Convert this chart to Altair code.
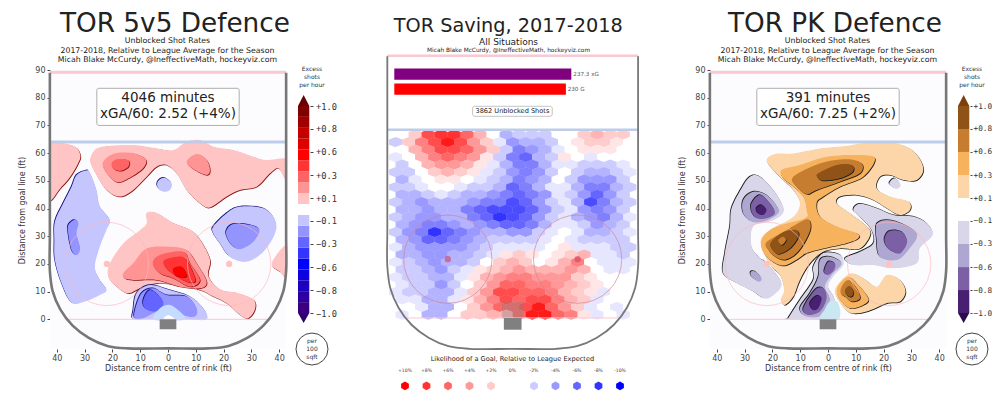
import altair as alt

FONT = "DejaVu Sans"
MONO = "DejaVu Sans Mono"

# ---------- rink geometry (feet) ----------
BOARD_X = [-42.5,-42.5,-42.5,-42.5,-41.5,-38.7,-34.3,-28.5,-21.8,-14.5,0,14.5,21.8,28.5,34.3,38.7,41.5,42.5,42.5,42.5,42.5]
BOARD_Y = [89,60,30,17.5,10.2,3.5,-2.3,-6.7,-9.6,-10.5,-10.5,-10.5,-9.6,-6.7,-2.3,3.5,10.2,17.5,30,60,89]
CIRCLE_X = [-22, 22]
CIRCLE_Y = [20, 20]

# ---------- 5v5 panel contours (feet) ----------
A1 = [(-42.5,63.5),(-37,63.5),(-33,62),(-31.5,59),(-32.5,56),(-35.5,51),(-39,47),(-42.5,43),(-44,50),(-44,60)]
A2 = [(-27.8,58.7),(-25.7,61.7),(-20.9,62.6),(-12.5,62.9),(-4.1,61.7),(1.9,61.1),(6.7,64.1),(11.5,64.7),(16.3,62.3),(23.5,61.1),(30.7,58.7),(35.5,57.5),(42.5,58),(44,54),(42.5,50.3),(39.7,54.5),(36.7,52.7),(31.9,47.9),(25.9,46.7),(21.1,44.3),(15.1,40.4),(11.5,41.9),(6.7,46.7),(3.1,52.7),(-0.5,55.7),(-4.1,55.1),(-7.7,51.5),(-12.5,46.7),(-17.3,44.3),(-22.1,46.7),(-25.7,52.1),(-27.8,56.3)]
A3 = [(-23.5,56.3),(-19.7,59.7),(-12.5,60),(-8,57.8),(-8.9,54.6),(-13,51.6),(-17.9,49.5),(-21.5,52.1)]
A4 = [(-20.3,56.3),(-18.5,57.8),(-14.3,57.5),(-14.3,55.1),(-17.3,53.6),(-19.7,54.5)]
A5 = [(6.7,56.9),(10.3,59.7),(13.9,57.5),(15.1,53.9),(13.9,52.1),(9.7,53.9)]
A6 = [(-29.5,53.7),(-32.9,52.1),(-34.7,47.9),(-37.7,41.9),(-40.7,35.3),(-40.9,28.6),(-40.7,21.4),(-38.3,13),(-34.7,6),(-29.9,6.4),(-24.5,8.8),(-22.1,10.6),(-24.5,14.2),(-26.3,19),(-24.5,26.3),(-22.1,32.3),(-20.9,35.9),(-24.5,40.7),(-25.7,46.7),(-28.1,52.9)]
A7 = [(-33.8,35.9),(-32.2,34.7),(-32.9,31),(-31.6,25.6),(-32.9,23.2),(-34.7,25),(-35.9,31),(-35.9,34)]
A8 = [(-1.3,51.1),(1.3,49.1),(0.7,46.7),(-1.7,46.1),(-3.8,47.9),(-3.5,50)]
A9 = [(16.3,33.5),(21.1,38.3),(25.9,40.7),(34.3,40.1),(38.5,35.9),(38.5,31),(34.3,24.4),(28.3,20.8),(22.3,22.6),(18.7,27.4),(16.3,31)]
A10 = [(21.1,32.3),(23.5,34.4),(29.5,34.1),(32.9,32.3),(30.7,28),(25.9,25.3),(22.9,26.8),(21.1,29.9)]
A11 = [(-7.7,38.4),(-4.1,38.4),(1.9,34.8),(7.9,32.4),(11.5,28.8),(15.1,21.6),(14.5,15.6),(18.7,10.8),(24.7,9.6),(30.7,7.2),(31.3,3.6),(28.9,0.4),(25.9,1.6),(21.1,5.8),(16.3,8.2),(11.5,10.6),(3.1,12.4),(-4.1,13),(-10.1,11.2),(-14.3,9.4),(-18.5,11.8),(-21.5,15.4),(-20.9,20.2),(-16.1,27.4),(-10.1,32.2),(-7.7,34.6)]
A12 = [(-16.1,16.6),(-12.5,20.2),(-7.7,25.6),(0.7,26.2),(6.7,25),(10.3,20.2),(13.9,13.6),(11.5,11.2),(4.3,11.8),(-4.1,14.2),(-12.5,14.2),(-15.5,14.8)]
A13 = [(-5.5,20.2),(-2.9,23.2),(5.5,24.4),(7.9,20.2),(11.5,14.2),(7.9,11.8),(1.9,14.8),(-2.9,16.6)]
A14 = [(-1.7,20.8),(1.9,22.4),(6.1,22),(9.1,16.6),(9.7,13.6),(6.7,13.6),(0.7,17.2)]
A15 = [(1.9,18.4),(4.9,19),(6.7,16),(5.5,15.2),(2.5,16)]
A16 = [(-12.5,3.4),(-11.3,9.4),(-6.5,12.4),(0.7,10.6),(7.9,8.2),(12.7,4),(13.9,0),(7,0),(0,0),(-7,0),(-12.5,0)]
A17 = [(-11.9,3.4),(-9.5,9.4),(-5.3,11.2),(-0.5,8.8),(6.7,8.2),(10.3,4),(9.7,1),(5.5,1.6),(0.7,4.6),(-4.1,2.8),(-8.9,0.4),(-11.9,0.4)]
A18 = [(-8.9,7),(-6.5,10.6),(-2.9,8.2),(-1.7,5.2),(-4.7,2.8),(-8.3,4)]
A19 = [(-5.3,0),(-2.9,4),(0.7,5.2),(4.3,2.8),(6.1,0),(0.4,-0.5)]
A20 = [(-1.7,0),(0.1,1.6),(2.5,0),(0.4,-0.5)]
A21 = [(37.3,20.2),(42.5,26.8),(44,21),(42.5,15.4),(40.3,17.2)]

RED = {1:"#ffc4c4", 2:"#ff9494", 3:"#ff6464", 4:"#ff3434", 5:"#ff0000"}
BLU = {1:"#c6c6ff", 2:"#9494ff", 3:"#6464ff", 9:"#c4dcff", 10:"#ffffff"}
ORG = {1:"#fcd6a8", 2:"#f6b25c", 3:"#c67d30", 4:"#8f5217"}
PUR = {1:"#d9d6ea", 2:"#aea7d1", 3:"#7b60a6", 4:"#482072", 9:"#c9e8f2"}

# (colour, shadow colour, shadow dx, polygon)
CONTOURS_5V5 = [
    (RED[1],"#8b1010",1,A1),(RED[1],"#8b1010",1,A2),(RED[2],"#8b1010",1,A3),(RED[3],"#8b1010",1,A4),(RED[2],"#8b1010",1,A5),
    (BLU[1],"#101080",-1,A6),(BLU[2],"#101080",-1,A7),(BLU[1],"#101080",-1,A8),(BLU[1],"#101080",-1,A9),(BLU[2],"#101080",-1,A10),
    (RED[1],"#8b1010",1,A11),(RED[2],"#8b1010",1,A12),(RED[3],"#8b1010",1,A13),(RED[4],"#8b1010",1,A14),(RED[5],"#8b1010",1,A15),
    (BLU[1],"#101080",-1,A16),(BLU[2],"#101080",-1,A17),(BLU[3],"#101080",-1,A18),(BLU[9],None,0,A19),(BLU[10],None,0,A20),
    (RED[1],"#8b1010",1,A21),
]

# ---------- PK panel contours (feet) ----------
B1 = [(-22.1,57.5),(-19.1,59.7),(-12.5,59.9),(-2.9,61.7),(6.7,62.6),(13.9,63.8),(21.1,64.1),(28.3,62.3),(32.5,58.7),(34.3,53.9),(31.9,50.3),(27.1,50.3),(22.3,52.1),(18.7,51.5),(17.5,47.3),(22.3,44.3),(28.9,42.5),(29.5,39.5),(25.9,37.7),(21.1,40.1),(16.3,43.1),(10.3,44.9),(4.3,44.3),(3.1,41.9),(7.9,38.3),(12.7,34.7),(15.3,31),(11.5,25.6),(4.3,25.6),(-1.7,24.4),(-6.5,20.2),(-10.1,14.2),(-12.5,8.2),(-15.5,5.2),(-17,7),(-15.8,10.6),(-17.3,16),(-20.3,19),(-23,23.8),(-24.2,28.6),(-20.9,32.2),(-12.5,37),(-10.1,41.9),(-12.5,46.7),(-16.1,50.3),(-19.7,53.9)]
B2 = [(-16.7,53.9),(-10.1,55.7),(-0.5,58.7),(10.3,59.3),(16.9,58.1),(12.7,51.5),(4.3,47.9),(-1.7,44.3),(-4.1,41.9),(-2.9,37.1),(3.1,33.5),(10.3,31.1),(10.9,29.3),(6.7,27.5),(-1.7,25.6),(-7.7,23.9),(-11.3,21.5),(-16.1,19.4),(-20.9,21.5),(-23.9,25.7),(-23.3,29.9),(-18.5,33.5),(-8.3,36.5),(-7.7,39.5),(-8.9,44.3),(-12.5,47.9),(-16.1,50.9)]
B3 = [(-12.5,51.5),(-2.9,56.3),(6.7,57.8),(12.1,56.3),(11.5,52.7),(4.3,49.7),(-4.1,46.7),(-7.7,45.2),(-11.3,47.9)]
B4 = [(-3.5,52.7),(3.1,55.7),(8.5,55.7),(8.9,53.3),(4.3,50.9),(-1.7,50.1),(-3.8,51.3)]
B5 = [(-22.1,27.9),(-14.9,32.2),(-7.7,36.1),(-6.2,33.5),(-7.7,29.2),(-11.3,23.9),(-15.5,21.5),(-19.1,22.7),(-21.5,25.1)]
B6 = [(-20.5,27.9),(-15.9,31.6),(-11.3,32.2),(-10.7,29.8),(-13.7,25.6),(-17.9,23.6),(-20.3,25.6)]
B7 = [(-17.9,28.6),(-16.1,29.8),(-15.1,28.6),(-16.7,26.8)]
B8 = [(4.9,14.2),(8.5,16.6),(12.7,14.8),(17.5,11.8),(21.1,16),(25.9,14.2),(27.9,10),(25.9,6.4),(21.1,5.8),(13.9,2.8),(7.9,2.4),(3.7,7),(2.5,10.6)]
B9 = [(4.3,13),(7.3,15.4),(10.3,13),(14.5,7.6),(12.7,5.2),(7.9,4),(4.3,7),(3.1,10)]
B10 = [(4.9,11.8),(7.3,14.2),(10.3,11.2),(11.5,7.6),(8.5,6.4),(6.1,8.2),(4.6,9.4)]
B11 = [(6.1,10.6),(7.7,12),(9.1,10),(8.5,8.2),(6.7,8.8)]
C1 = [(-28.1,51.5),(-24.5,51.5),(-19.7,46.7),(-16.1,40.7),(-16.7,37.7),(-20.9,35.3),(-26.9,33.5),(-27.5,26.3),(-24.5,22.1),(-22.1,20.3),(-16.7,13),(-20.3,8.2),(-23.3,7.6),(-26.9,10),(-32.9,13),(-37.7,16.6),(-37.1,23.9),(-35.3,33.5),(-34.7,40.1),(-31.1,47.3)]
C2 = [(-30.5,43.1),(-26.9,46.1),(-22.1,44.9),(-17.9,40.1),(-18.5,37.7),(-23.3,35.3),(-27.5,35.3),(-30.5,38.3)]
C3 = [(-27.5,41.9),(-24.5,44.9),(-20.9,41.9),(-19.1,38.3),(-22.1,36.5),(-25.7,36.5),(-27.5,38.9)]
C4 = [(-25.7,40.1),(-23.9,41.3),(-22.1,39.5),(-23.3,37.7),(-25.3,38.3)]
C5 = [(-27.8,17.2),(-26,17.2),(-23.9,14.8),(-24.8,13.6),(-27.5,15.4)]
C6 = [(9.1,39.5),(11.5,41.7),(17.5,40.1),(23.5,37.7),(30.7,37.1),(35.5,34.7),(37.7,30.5),(33,25.6),(31.9,20.2),(23.5,18.4),(16.3,19.6),(9.1,19.6),(6.1,22),(11.5,24.4),(16.3,27.4),(15.7,32.2),(11.5,37)]
C7 = [(17.7,34.7),(23.5,35.6),(31.9,31),(28.9,25),(24.7,21.4),(18.7,22.6),(17.5,28.6)]
C8 = [(20.5,29.8),(22.3,32),(26.5,31.6),(28.5,28),(25.9,23.8),(22.3,25),(20.5,27.4)]
C9 = [(22.3,49.7),(24.1,50.9),(26.1,48.5),(24.7,47.1),(22.3,48.5)]
C10 = [(-14.3,0.4),(-10.1,7),(-5.3,14.2),(-5.3,19),(-1.7,23.9),(4.3,23.3),(5.5,19.7),(1.9,15.5),(0.1,11.8),(2.5,7),(1.9,0),(-6,0),(-14.3,0)]
C11 = [(-10.1,4),(-6.5,9.4),(-3.5,15.4),(-2.9,21.4),(0.7,22.6),(4.9,20.2),(1.3,16),(-1.1,11.8),(0.7,7),(-1.7,1.6),(-7.7,1)]
C12 = [(0.7,6.4),(3.7,5.8),(3.9,0),(-2.9,0),(-1.2,3.5)]
C13 = [(-8.9,4),(-4.7,10.6),(-1.7,11.2),(-0.5,7.6),(-2.9,2.8),(-7.1,1.6)]
C14 = [(-6.5,5.8),(-4.1,8.4),(-2.3,7.6),(-3.5,4),(-5.5,3.4)]
C15 = [(-1.4,17.2),(0.1,20.8),(2.5,20.2),(2.2,17.8),(0.1,16)]

DK = "#1c1c1c"
CONTOURS_PK = [
    (ORG[1],DK,1,B1),(ORG[2],DK,1,B2),(ORG[3],DK,1,B3),(ORG[4],DK,1,B4),(ORG[3],DK,1,B5),(ORG[4],DK,1,B6),(ORG[3],DK,1,B7),
    (ORG[1],DK,1,B8),(ORG[2],DK,1,B9),(ORG[3],DK,1,B10),(ORG[4],DK,1,B11),
    (PUR[1],DK,-1,C1),(PUR[2],DK,-1,C2),(PUR[3],DK,-1,C3),(PUR[4],DK,-1,C4),(PUR[2],DK,-1,C5),
    (PUR[1],DK,-1,C6),(PUR[2],DK,-1,C7),(PUR[3],DK,-1,C8),(PUR[1],DK,-1,C9),
    (PUR[1],DK,-1,C10),(PUR[2],DK,-1,C11),(PUR[9],None,0,C12),(PUR[3],DK,-1,C13),(PUR[4],DK,-1,C14),(PUR[3],DK,-1,C15),
]

# ---------- hex map values (percent), row by row from the blue line down ----------
HEX_ROWS = [
 [0,2,7,8,8,6,3,0,-3,-2,-2,-2,0,0,2,3,2,2],
 [-2,2,5,7,9,7,4,2,-1,-4,-3,-3,-2,0,1,2,2,1,0],
 [0,3,5,7,7,6,4,2,-2,-5,-4,-3,-1,0,1,1,1,0],
 [-1,0,3,5,6,5,4,1,-2,-5,-6,-3,-2,1,0,-1,0,0,0],
 [-2,0,3,4,4,3,1,-1,-3,-5,-5,-3,-1,-1,-2,-2,-2,-1],
 [-2,-2,0,2,3,2,1,-1,-2,-4,-5,-4,-2,0,-2,-3,-3,-2,-1],
 [-3,-1,0,1,1,0,-1,-2,-3,-5,-4,-3,0,-2,-4,-4,-4,-2],
 [-2,-2,-1,0,0,-1,-2,-2,-3,-6,-5,-3,-1,-1,-3,-5,-5,-3,-2],
 [-3,-3,-2,-1,-2,-3,-3,-4,-5,-6,-5,-4,-1,-2,-4,-6,-4,-2],
 [-2,-3,-4,-3,-3,-3,-4,-5,-5,-7,-6,-4,-2,-1,-3,-7,-5,-3,-2],
 [-3,-3,-4,-3,-3,-5,-6,-7,-7,-7,-6,-4,-2,-1,-4,-5,-4,-2],
 [-2,-3,-4,-4,-3,-3,-5,-6,-8,-7,-6,-4,-2,-1,-3,-4,-5,-3,-1],
 [-3,-4,-5,-5,-4,-3,-4,-5,-6,-6,-5,-3,-1,-1,-2,-4,-3,-2],
 [-2,-4,-5,-8,-6,-5,-4,-3,-3,-4,-4,-2,-1,0,-1,-3,-3,-2,-1],
 [-3,-4,-6,-6,-5,-4,-3,-2,-2,-2,-2,-1,0,-1,-2,-2,-2,-2],
 [-1,-3,-4,-4,-4,-4,-3,-2,-1,-1,-1,-1,0,1,-1,-1,-1,-2,-2],
 [-3,-3,-4,-4,-3,-3,-2,-1,1,2,1,0,1,2,3,-1,-1,-2],
 [-1,-2,-3,-4,-3,-3,-2,0,2,3,2,0,1,3,5,0,-1,-1,-1],
 [-2,-2,-3,-4,-2,-1,1,2,3,4,3,3,3,4,3,0,-1,-1],
 [-1,-2,-2,-3,-3,-1,1,3,4,5,5,4,4,4,2,1,0,0,0],
 [-1,-2,-2,-4,-2,0,2,4,6,6,5,5,4,3,2,1,0,0],
 [-1,-2,-2,-3,-3,-1,2,4,7,7,6,6,5,3,2,1,-1,0,0],
 [-1,-1,-3,-3,-1,1,3,5,7,6,7,7,5,3,2,-1,0,0],
 [0,0,-1,-3,-3,0,2,4,6,6,7,9,6,4,2,-1,0,-1,0],
 [-1,0,-3,-3,0,2,2,3,3,6,9,9,6,5,1,-1,0,-1],
]
HEX_TOP_FT = 62.35
HEX_ROW_FT = 2.55
HEX_COL_FT = 4.407

LEGEND_PCT = [10,8,6,4,2,0,-2,-4,-6,-8,-10]
LEGEND_TXT = ["+10%","+8%","+6%","+4%","+2%","0%","-2%","-4%","-6%","-8%","-10%"]

BAR_NAMES = ["237.3 xG","230 G"]
BAR_VALUES = [237.3,230]
BAR_COLORS = ["#800080","#ff0000"]
BAR_TOP = [84.9,79.8]
BAR_BOT = [81.0,75.9]
BAR_LAB_X = [240.0,232.4]
BAR_LAB_Y = [83.0,77.9]

# ---------- colourbars ----------
CB1_EDGES = [-1,-.895,-.789,-.684,-.579,-.474,-.368,-.263,-.158,-.053,.053,.158,.263,.368,.474,.579,.684,.789,.895,1]
CB1_COLORS = ["#3a0080","#2c00a0","#1e00c0","#0f00e0","#0000ff","#3434ff","#6464ff","#9494ff","#c6c6ff","#ffffff",
              "#ffc4c4","#ff9494","#ff6464","#ff3434","#ff0000","#e00000","#c40000","#a00000","#800000"]
CB1_TIPS = ["#6a0000","#320070"]
CB3_EDGES = [-1,-.778,-.556,-.333,-.111,.111,.333,.556,.778,1]
CB3_COLORS = ["#482072","#7b60a6","#aea7d1","#d9d6ea","#ffffff","#fcd6a8","#f6b25c","#c67d30","#8f5217"]
CB3_TIPS = ["#7f3f0c","#2d0a50"]
CB_TICKS = [-1,-.778,-.556,-.333,-.111,.111,.333,.556,.778,1]

P_W, P_H = 236, 341
X_DOM = [-42.45, 42.45]
Y_DOM = [-10.72, 112.4]


def xy(xdom, ydom, xaxis=None, yaxis=None):
    return (alt.X("x:Q", scale=alt.Scale(domain=xdom, nice=False, zero=False), axis=xaxis),
            alt.Y("y:Q", scale=alt.Scale(domain=ydom, nice=False, zero=False), axis=yaxis))


def poly_layer(contours, X, Y, shift):
    rows = []
    pid = 0
    for color, shadow, dx, pts in contours:
        if shadow:
            pid += 1
            for i, (a, b) in enumerate(pts):
                rows.append({"x": a + dx * shift, "y": b - dx * shift, "id": pid, "o": i, "c": shadow})
        pid += 1
        for i, (a, b) in enumerate(pts):
            rows.append({"x": a, "y": b, "id": pid, "o": i, "c": color})
    return alt.Chart(alt.Data(values=rows)).mark_line(
        filled=True, interpolate="cardinal-closed", clip=True
    ).encode(x=X, y=Y, detail="id:N", order="o:Q", color=alt.Color("c:N", scale=None))


def text_layer(rows, X, Y, font=FONT, color="#222222", align="center"):
    data = [{"x": a, "y": b, "t": t, "s": s} for a, b, t, s in rows]
    return alt.Chart(alt.Data(values=data)).mark_text(font=font, color=color, align=align, baseline="middle").encode(
        x=X, y=Y, text="t:N", size=alt.Size("s:Q", scale=None))


def rink_common(X, Y, board_w, line_w, circle_size, dot_size, dot_color, dot_op, circle_color, goal_y):
    X2, Y2 = alt.X2("x2:Q"), alt.Y2("y2:Q")
    circles = alt.Chart(alt.Data(values=[{"x": a, "y": b} for a, b in zip(CIRCLE_X, CIRCLE_Y)]))
    return [
        circles.mark_point(shape="circle", filled=False, size=circle_size, color=circle_color, strokeWidth=0.8, opacity=0.8).encode(x=X, y=Y),
        circles.mark_point(shape="circle", filled=True, size=dot_size, color=dot_color, opacity=dot_op).encode(x=X, y=Y),
        alt.Chart(alt.Data(values=[{"x": -36, "x2": 36, "y": 0}])).mark_rule(color="#f9c6cf", strokeWidth=1).encode(x=X, x2=X2, y=Y),
        alt.Chart(alt.Data(values=[{"x": -42.5, "x2": 42.5, "y": 89.2}])).mark_rule(color="#f7c9d2", strokeWidth=line_w).encode(x=X, x2=X2, y=Y),
        alt.Chart(alt.Data(values=[{"x": -42.5, "x2": 42.5, "y": 64}])).mark_rule(color="#bdcde9", strokeWidth=line_w).encode(x=X, x2=X2, y=Y),
        alt.Chart(alt.Data(values=[{"x": a, "y": b, "o": i} for i, (a, b) in enumerate(zip(BOARD_X, BOARD_Y))])).mark_line(
            color="#777777", strokeWidth=board_w, interpolate="catmull-rom").encode(x=X, y=Y, order="o:Q"),
        alt.Chart(alt.Data(values=[{"x": -3, "x2": 3, "y": 0, "y2": goal_y}])).mark_rect(color="#808080", opacity=1).encode(x=X, x2=X2, y=Y, y2=Y2),
    ]


def rink_panel(contours, title, minutes, xga):
    xaxis = alt.Axis(values=[-40,-30,-20,-10,0,10,20,30,40], labelExpr="abs(datum.value)", domain=False, grid=False,
                     tickSize=3, tickColor="#444444", labelFont=FONT, labelFontSize=8, labelColor="#444444", labelPadding=2,
                     title="Distance from centre of rink (ft)", titleFont=FONT, titleFontSize=8, titleFontWeight="normal",
                     titleColor="#333333", titlePadding=2)
    yaxis = alt.Axis(values=[0,10,20,30,40,50,60,70,80,90], domain=False, grid=False, tickSize=3, tickColor="#444444",
                     labelFont=FONT, labelFontSize=8, labelColor="#444444", labelPadding=2,
                     title="Distance from goal line (ft)", titleFont=FONT, titleFontSize=8, titleFontWeight="normal",
                     titleColor="#333333", titleX=-24, titleY=202)
    X, Y = xy(X_DOM, Y_DOM, xaxis, yaxis)
    X2, Y2 = alt.X2("x2:Q"), alt.Y2("y2:Q")
    bg = alt.Chart(alt.Data(values=[{"x": -42.45, "x2": 42.45, "y": -10.72, "y2": 89}])).mark_rect(color="#fcfcff").encode(x=X, x2=X2, y=Y, y2=Y2)
    box = alt.Chart(alt.Data(values=[{"x": -25.6, "x2": 25.6, "y": 83.4, "y2": 70}])).mark_rect(
        fill="#ffffff", stroke="#999999", strokeWidth=0.8, cornerRadius=2).encode(x=X, x2=X2, y=Y, y2=Y2)
    texts = text_layer([
        (2.5, 106.8, title, 26.3),
        (-0.2, 100.5, "Unblocked Shot Rates", 7.8),
        (-0.2, 97, "2017-2018, Relative to League Average for the Season", 7.8),
        (-0.2, 93.8, "Micah Blake McCurdy, @IneffectiveMath, hockeyviz.com", 7.8),
        (0, 79.9, minutes, 13.5),
        (0, 74.1, xga, 13.5),
    ], X, Y)
    under = rink_common(X, Y, 2.6, 3, 6950, 40, "#ffc2c2", 1, "#ffb8b8", -3.6)
    return alt.layer(bg, poly_layer(contours, X, Y, 0.25), *under, box, texts).properties(width=P_W, height=P_H)


def colorbar(edges, colors, tips, label_size, tick, label_pad):
    ydom = [-1.541, 1.947]
    yaxis = alt.Axis(values=CB_TICKS, orient="right", format="+.1f", domain=False, grid=False, title=None, tickSize=tick,
                     tickColor="#444444", labelFont=MONO, labelFontSize=label_size, labelColor="#333333", labelPadding=label_pad)
    X = alt.X("x:Q", scale=alt.Scale(domain=[0, 1], nice=False, zero=False), axis=None)
    Y = alt.Y("y:Q", scale=alt.Scale(domain=ydom, nice=False, zero=False), axis=yaxis)
    X2, Y2 = alt.X2("x2:Q"), alt.Y2("y2:Q")
    bands = [{"x": 0.5, "x2": 0.97, "y": edges[i], "y2": edges[i + 1], "c": colors[i]} for i in range(len(colors))]
    rects = alt.Chart(alt.Data(values=bands)).mark_rect().encode(x=X, x2=X2, y=Y, y2=Y2, color=alt.Color("c:N", scale=None))
    tip_rows = []
    for pid, (c, pts) in enumerate([(tips[0], [(0.5, 1), (0.97, 1), (0.735, 1.106)]), (tips[1], [(0.5, -1), (0.97, -1), (0.735, -1.097)])]):
        for i, (a, b) in enumerate(pts):
            tip_rows.append({"x": a, "y": b, "id": pid, "o": i, "c": c})
    tipm = alt.Chart(alt.Data(values=tip_rows)).mark_line(filled=True, interpolate="linear-closed").encode(
        x=X, y=Y, detail="id:N", order="o:Q", color=alt.Color("c:N", scale=None))
    ring = alt.Chart(alt.Data(values=[{"x": 1.083, "y": -1.348}])).mark_point(
        shape="circle", filled=False, size=1024, color="#444444", strokeWidth=1, opacity=1).encode(x=X, y=Y)
    t = text_layer([(1.083, 1.357, "Excess", 6), (1.083, 1.28, "shots", 6), (1.083, 1.203, "per hour", 6),
                    (1.083, -1.27, "per", 6), (1.083, -1.348, "100", 6), (1.083, -1.425, "sqft", 6)], X, Y, color="#333333")
    return alt.layer(rects, tipm, ring, t).properties(width=24, height=361)


def middle_panel():
    L, W = 310.0, 400.0
    R = L + W
    xdom = [(L - 512.7) / 2.95, (R - 512.7) / 2.95]
    ydom = [-27.9, 105.44]
    X, Y = xy(xdom, ydom)
    X2, Y2 = alt.X2("x2:Q"), alt.Y2("y2:Q")
    color = alt.Color("v:Q", legend=None, scale=alt.Scale(domain=[-10, 0, 10], range=["#0000ff", "#ffffff", "#ff0000"], interpolate="rgb"))
    hex_rows = []
    for r, row in enumerate(HEX_ROWS):
        for c, v in enumerate(row):
            hex_rows.append({"x": (c - (len(row) - 1) / 2) * HEX_COL_FT, "y": HEX_TOP_FT - r * HEX_ROW_FT, "v": v})
    hexes = alt.Chart(alt.Data(values=hex_rows)).mark_point(
        shape="M0,-0.77L1,-0.385L1,0.385L0,0.77L-1,0.385L-1,-0.385Z", filled=True, size=176, opacity=1, strokeWidth=0
    ).encode(x=X, y=Y, color=color)
    crease = alt.Chart(alt.Data(values=[{"x": -3.6, "x2": 3.6, "y": 0, "y2": 5.4}])).mark_rect(color="#808080", opacity=0.35).encode(x=X, x2=X2, y=Y, y2=Y2)
    under = rink_common(X, Y, 1.8, 2.5, 7800, 40, "#d04060", 0.6, "#d08090", -4)
    # bars on their own scale
    bx0, bk = 394.3, 0.746
    BX = alt.X("x:Q", scale=alt.Scale(domain=[(L - bx0) / bk, (R - bx0) / bk], nice=False, zero=False), axis=None)
    bars = alt.Chart(alt.Data(values=[{"x": 0, "x2": v, "y": t, "y2": b, "c": c} for v, t, b, c in zip(BAR_VALUES, BAR_TOP, BAR_BOT, BAR_COLORS)])).mark_rect().encode(
        x=BX, x2=X2, y=Y, y2=Y2, color=alt.Color("c:N", scale=None))
    bar_text = text_layer(list((a, b, t, 5.6) for a, b, t in zip(BAR_LAB_X, BAR_LAB_Y, BAR_NAMES)), BX, Y, color="#555555", align="left")
    box = alt.Chart(alt.Data(values=[{"x": -13.6, "x2": 13.4, "y": 72, "y2": 68.6}])).mark_rect(
        fill="#ffffff", stroke="#aaaaaa", strokeWidth=0.7, cornerRadius=2).encode(x=X, x2=X2, y=Y, y2=Y2)
    texts = text_layer([
        (-1.5, 99.3, "TOR Saving, 2017-2018", 19.3),
        (-1.4, 93.9, "All Situations", 9),
        (-1.4, 91.2, "Micah Blake McCurdy, @IneffectiveMath, hockeyviz.com", 5.8),
        (-0.1, 70.3, "3862 Unblocked Shots", 6.6),
        (-0.1, -13.9, "Likelihood of a Goal, Relative to League Expected", 6.6),
    ], X, Y)
    # legend on its own scale: percent runs right to left
    LX = alt.X("p:Q", scale=alt.Scale(domain=[(512.5 - L) / 10.75, (512.5 - R) / 10.75], nice=False, zero=False), axis=None)
    leg = alt.Chart(alt.Data(values=[{"p": p, "v": p, "y": -23.1} for p in LEGEND_PCT])).mark_point(
        shape="M0,-1L0.866,-0.5L0.866,0.5L0,1L-0.866,0.5L-0.866,-0.5Z", filled=True, size=80, opacity=1, strokeWidth=0
    ).encode(x=LX, y=Y, color=color)
    leg_t = alt.Chart(alt.Data(values=[{"p": p, "t": t, "y": -18} for p, t in zip(LEGEND_PCT, LEGEND_TXT)])).mark_text(
        font=FONT, fontSize=4.6, color="#444444", baseline="middle").encode(x=LX, y=Y, text="t:N")
    return alt.layer(hexes, crease, *under, bars, bar_text, box, texts, leg, leg_t).resolve_scale(x="independent", color="independent").properties(width=W, height=392)


chart = alt.hconcat(
    rink_panel(CONTOURS_5V5, "TOR 5v5 Defence", "4046 minutes", "xGA/60: 2.52 (+4%)"),
    colorbar(CB1_EDGES, CB1_COLORS, CB1_TIPS, 8.7, 3, 2.5),
    middle_panel(),
    rink_panel(CONTOURS_PK, "TOR PK Defence", "391 minutes", "xGA/60: 7.25 (+2%)"),
    colorbar(CB3_EDGES, CB3_COLORS, CB3_TIPS, 7.7, 2, 1),
    spacing=0, bounds="flush",
).properties(padding={"left": 10, "top": 0, "right": 0, "bottom": 0}).configure_view(strokeWidth=0)

chart.save("out.html", embed_options={"renderer": "svg", "actions": False})
